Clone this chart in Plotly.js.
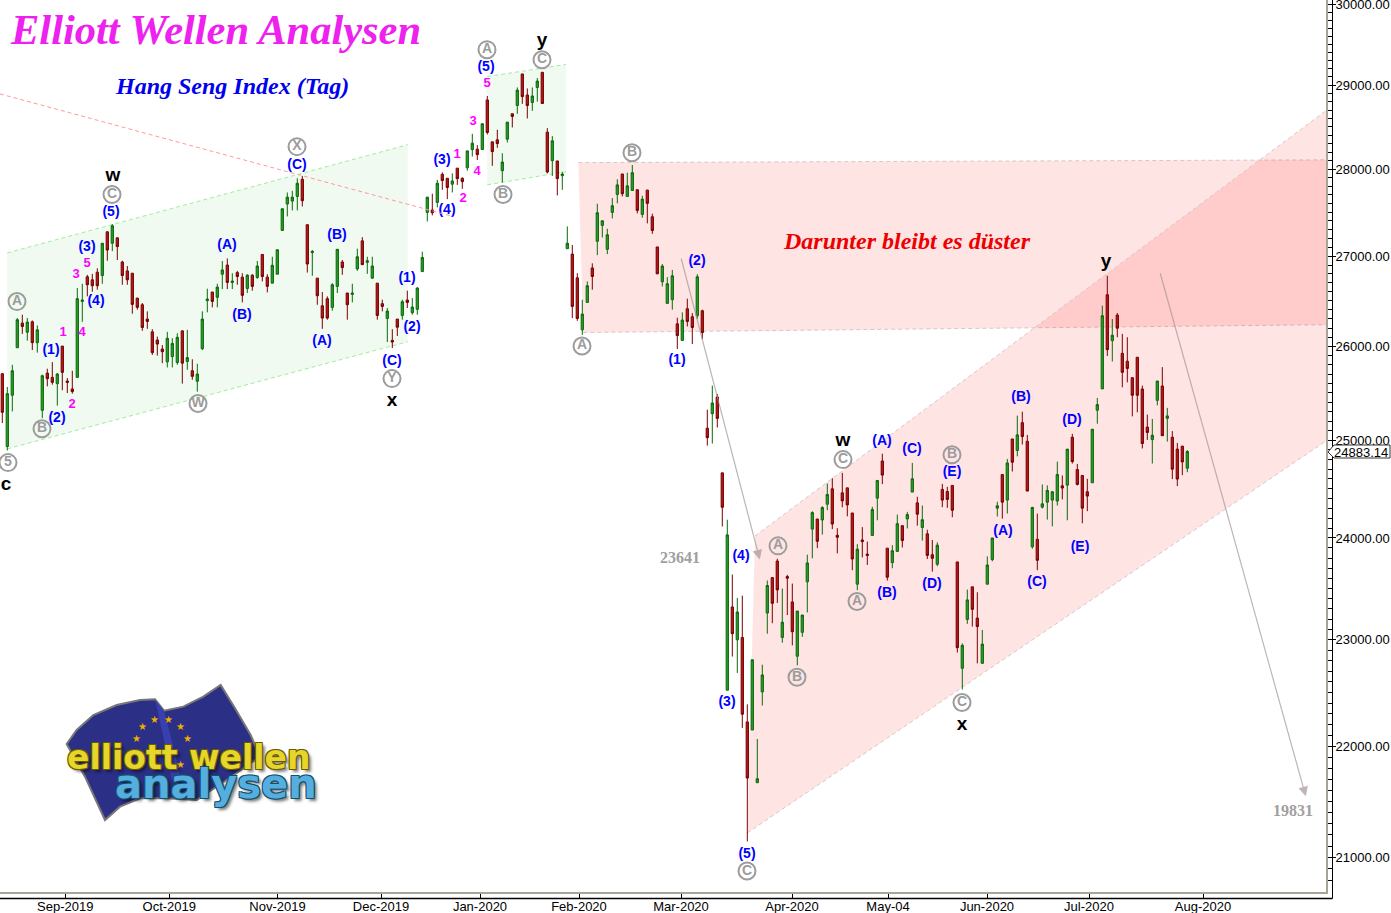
<!DOCTYPE html>
<html><head><meta charset="utf-8">
<script src="https://cdn.plot.ly/plotly-3.0.1.min.js"></script>
<style>html,body{margin:0;padding:0;background:#fff}#c{width:1391px;height:913px}</style></head>
<body><div id="c"></div>
<script>
const openVals=[25705,24935,25475,25986,26255,26155,26269,26041,25315,25712,
25666,25599,26004,25627,25542,25666,26494,26768,26734,26819,
26782,27276,27146,27207,26934,26834,26808,26531,26457,26299,
26159,26070,25972,25833,25890,25826,26170,25837,25737,25624,
25975,26502,26598,26539,26797,26900,26705,26815,26764,26638,
26786,26760,27019,26764,26697,26797,27291,27594,27628,27682,
27881,27357,27039,26753,26446,26524,26428,26661,26934,26587,
26572,26856,27173,26930,26753,26697,26469,26306,26066,26299,
26339,26509,26369,26406,26826,27498,27525,27613,27939,27893,
27824,28011,27893,28015,28230,28234,28230,28821,28321,28345,
27981,28353,28655,28754,29136,28881,28790,28972,29156,28436,
28099,28095,27923,27084,27023,26756,26181,26483,26867,27168,
27349,27077,27498,27705,27943,27682,27751,27759,27475,27755,
27448,27104,26712,26472,26513,26247,26066,26413,26325,26336,
26391,25127,25279,25457,24662,22521,23318,23000,23023,22224,
22149,21667,22505,23259,23606,23770,23023,23616,23367,22843,
23072,23564,24089,24191,24181,24341,24498,24027,24457,24508,
24252,23541,23980,23839,24025,24403,24785,23898,23754,23866,
24124,24192,24465,24355,24106,24042,23833,23738,24492,24471,
24533,23761,22728,23197,23515,23210,22775,23541,23784,24301,
24645,24383,25014,24894,25185,24990,23912,23987,24311,24362,
24383,24373,24529,24536,25032,24696,24635,24468,24560,25316,
25543,26568,26063,26343,25925,25840,25663,25883,25542,25138,
25007,25421,25574,25231,25032,24908,24939,24710];
const highVals=[25712,25563,25801,26310,26347,26310,26284,26229,25695,25759,
25830,25712,26004,25659,25737,26642,26690,26790,26801,26863,
27146,27280,27364,27211,26948,26889,26808,26531,26476,26384,
26188,26107,26015,26159,26089,26144,26170,26181,25861,25812,
26384,26635,26598,26690,26945,26974,26808,26834,26808,26797,
26797,26945,27023,26797,26993,27072,27540,27728,27747,27893,
27920,27357,27069,26753,26598,26550,26697,27077,26956,26587,
26690,27084,27215,26993,26993,26697,26513,26421,26188,26299,
26513,26613,26531,26653,27050,27674,27713,27874,27962,27893,
27950,28011,27904,28214,28416,28281,28536,28869,28321,28464,
28186,28555,28655,28972,29136,28960,28972,29086,29156,28484,
28389,28099,27969,27337,27126,26808,26513,26716,26919,27598,
27402,27311,27663,27881,27943,27958,28048,27766,27690,27759,
27483,27104,26911,26764,26845,26314,26373,26524,26365,26797,
26402,25322,25578,25489,24662,24184,23636,23406,23429,22388,
22809,22066,22762,23577,23606,23793,23498,23633,23547,23278,
23242,23833,24269,24191,24321,24552,24607,24099,24662,24508,
24252,23938,24109,23964,24315,24584,24860,23898,23928,24236,
24124,24263,24765,24417,24328,24083,23980,23957,24549,24519,
24533,23761,22966,23488,23515,23462,23095,23816,24000,24366,
24645,24806,25014,25259,25301,25056,24315,24246,24543,24533,
24475,24778,24635,24908,25067,24754,24635,24601,25116,25447,
26446,26779,26299,26365,26137,26100,25663,25883,25578,25270,
25224,25627,25776,25341,25096,24973,24942,24898];
const lowVals=[25180,24894,25304,25986,26137,26063,25961,25933,25233,25570,
25588,25365,25528,25499,25492,25666,26269,26550,26601,26624,
26690,26948,27057,26956,26679,26679,26358,26402,26170,26192,
25908,25901,25819,25773,25773,25801,25599,25748,25641,25514,
25961,26373,26428,26428,26631,26631,26631,26679,26483,26587,
26613,26745,26716,26594,26697,26797,27291,27452,27521,27521,
27567,26815,26779,26457,26192,26292,26391,26587,26790,26292,
26483,26834,26904,26801,26745,26292,26384,26048,25982,26114,
26292,26421,26347,26347,26826,27394,27464,27556,27759,27651,
27728,27816,27770,27981,28147,28107,28230,28408,28039,28250,
27843,28313,28492,28655,28774,28599,28690,28801,28778,27950,
27920,27694,27759,27084,26310,26280,26126,26483,26624,27011,
27211,27023,27429,27602,27682,27682,27751,27487,27437,27372,
27253,26801,26660,26472,26402,25972,26066,26218,26026,26303,
26081,24945,24966,25134,24116,22521,22840,22684,22169,21142,
22149,21667,22377,23059,23160,23357,22972,23239,22947,22756,
23029,23265,23797,23898,24034,24280,24089,23846,24310,24218,
23679,23482,23806,23731,24025,24178,24546,23577,23698,23866,
23905,24096,24465,24124,23974,23790,23665,23718,24311,24304,
24209,22878,22527,23154,23128,22775,22775,23541,23767,24216,
24195,24246,24676,24833,24956,24475,23892,23679,24298,24185,
24117,24328,24390,24178,24758,24533,24148,24270,24560,25174,
25543,25897,25837,26100,25560,25613,25251,25294,24915,25004,
24758,25368,25048,24986,24598,24526,24638,24669];
const closeVals=[25294,25492,25737,26292,26218,26266,26041,26181,25684,25652,
25613,25702,25720,25613,25514,26524,26509,26679,26668,26668,
27146,27069,27345,27108,26782,26734,26461,26428,26207,26273,
25933,26026,25943,26089,26033,26100,25819,25879,25677,25702,
26299,26520,26494,26653,26845,26705,26720,26771,26561,26786,
26661,26889,26771,26661,26897,27072,27540,27674,27674,27835,
27632,26911,27054,26557,26310,26310,26679,27077,26871,26457,
26587,26993,26904,26948,26889,26339,26439,26387,26048,26210,
26491,26483,26432,26642,26985,27674,27494,27835,27866,27786,
27862,27889,27854,28214,28305,28170,28536,28432,28206,28301,
28083,28555,28623,28940,28861,28754,28869,29049,28778,27966,
28333,27889,27943,27146,26439,26306,26354,26668,26771,27494,
27402,27242,27575,27816,27713,27805,27958,27521,27651,27602,
27291,26801,26889,26690,26779,26118,26288,26273,26207,26768,
26151,25027,25393,25230,24310,24031,23059,23269,22296,21709,
22809,21703,22665,23528,23354,23485,23170,23600,23078,23278,
23239,23751,24256,23967,24307,24440,24140,24007,24375,24334,
23790,23888,23964,23826,24287,24584,24639,23610,23872,24144,
23974,24236,24601,24240,24184,23826,23797,23928,24383,24390,
24280,22925,22947,23387,23295,23128,22959,23731,24000,24325,
24362,24765,24772,25057,25039,24475,24308,23777,24345,24482,
24468,24645,24506,24908,24778,24543,24301,24424,25116,25376,
26336,25965,26122,26199,25720,25762,25475,25475,24966,25082,
25053,25627,25048,25256,24700,24598,24775,24883.14];
const barIndex=openVals.map((_,i)=>i);

const xTickIdx=[12.6,33.4,55.04,75.74,95.54,115.34,135.74,157.94,177.14,196.94,217.34,240.14];
const xTickText=['Sep-2019','Oct-2019','Nov-2019','Dec-2019','Jan-2020','Feb-2020','Mar-2020','Apr-2020','May-04','Jun-2020','Jul-2020','Aug-2020'];
const yTickVals=[21000,22000,23000,24000,25000,26000,27000,28000,29000,30000];
const yTickText=yTickVals.map(v=>v.toFixed(2));
const yMinor=[];for(let v=20800;v<=30000;v+=100){if(v%1000)yMinor.push(v);}

const blueText=['(1)','(2)','(3)','(4)','(5)','(A)','(B)','(C)','(A)','(B)','(C)','(1)','(2)','(3)','(4)','(5)','(2)','(1)','(4)','(3)','(5)','(A)','(C)','(E)','(B)','(D)','(A)','(C)','(B)','(D)','(E)'];
const blueIdx=[9.74,10.94,16.94,18.74,21.74,44.94,47.94,58.94,63.94,66.94,77.94,80.94,81.94,87.94,88.94,96.74,138.94,134.94,147.74,144.94,148.94,175.94,181.94,189.94,176.94,185.94,200.14,206.94,203.74,213.94,215.54];
const bluePrice=[25957,25233,27100,26488,27502,27123,26333,28045,26056,27238,25840,26753,26210,28103,27525,29217,26941,25851,23819,22404,21028,24988,24906,24661,23454,23542,24068,23554,25446,25212,23907];
const pinkText=['1','2','3','4','5','1','2','3','4','5'];
const pinkIdx=[12.14,13.94,14.74,15.94,16.94,90.94,92.14,94.14,94.94,96.94];
const pinkPrice=[26144,25372,26786,26154,26919,28163,27652,28555,27972,29021];
const blackText=['c','w','x','y','w','x','y'];
const blackIdx=[0.74,22.14,77.94,107.94,168.14,191.94,220.74];
const blackPrice=[24538,27915,25414,29538,24988,22196,26930];
const ringText=['A','B','5','C','W','X','Y','A','C','B','A','B','A','B','C','A','C','B','C'];
const ringIdx=[2.94,7.94,1.14,21.94,39.14,58.94,77.94,96.94,107.94,100.14,115.94,125.94,155.14,158.94,148.94,170.94,168.14,189.94,191.94];
const ringPrice=[26492,25121,24768,27704,25387,28264,25653,29433,29310,27704,26005,28192,23921,22643,20882,23371,24799,24850,22406];
const targetText=['23641','19831'];
const targetIdx=[135.54,258.14];
const targetPrice=[23790,21405];

const greenA={i:[1,81.1,81.1,1],p:[27036,28287,26052,24911]};
const greenB={i:[97,112.74,112.74,97],p:[29104,29252,27970,27817]};
const redBand={i:[115.2,264.74,264.74,116.2],p:[28076,28108,26237,26152]};
const redChan={i:[150.54,264.74,264.74,149],p:[24020,28692,24993,21217]};
const trend={i:[-0.46,90.2],p:[28894,27450]};
const arrowA={i:[135.7,151.5],p:[26990,23784]};
const arrowB={i:[231.5,260.7],p:[26824,21544]};

const W=1326,H=892;
const px=x=>x/W, py=y=>1-y/H;
const poly=c=>'M'+c.i.map((v,k)=>v+' '+c.p[k]).join(' L')+' Z';
const fillShape=(c,col)=>({type:'path',xref:'x',yref:'y',path:poly(c),fillcolor:col,line:{width:0},layer:'below'});
const edge=(c,a,b,col)=>({type:'line',xref:'x',yref:'y',x0:c.i[a],y0:c.p[a],x1:c.i[b],y1:c.p[b],line:{color:col,width:1,dash:'4px,3px'},layer:'below'});
const G='rgba(0,170,0,0.06)',GL='#9cf09c',R='rgba(255,0,0,0.105)',RL='#d9c6c6';

const flagPts=[[80,222],[110,180],[160,135],[230,105],[300,90],[345,88],[372,122],[430,110],[490,80],[542,45],[585,115],[632,195],[660,260],[560,330],[470,390],[380,385],[300,385],[240,410],[195,450],[135,320]];
const flagPath='M'+flagPts.map(p=>px(40+p[0]/3)+' '+py(670+p[1]/3)).join(' L')+' Z';
const foldPts=[[345,88],[372,122],[400,230],[420,320],[395,330],[370,200]];
const foldPath='M'+foldPts.map(p=>px(40+p[0]/3)+' '+py(670+p[1]/3)).join(' L')+' Z';
const tagPts=[[1328,452],[1334,445],[1390,445],[1390,458],[1334,458]];
const tagPath='M'+tagPts.map(p=>px(p[0])+' '+py(p[1])).join(' L')+' Z';

const shapes=[
 fillShape(greenA,G),edge(greenA,0,1,GL),edge(greenA,3,2,GL),
 fillShape(greenB,G),edge(greenB,0,1,GL),edge(greenB,3,2,GL),
 fillShape(redBand,R),edge(redBand,0,1,RL),edge(redBand,3,2,RL),
 fillShape(redChan,R),edge(redChan,0,1,RL),edge(redChan,3,2,RL),
 {type:'line',xref:'x',yref:'y',x0:trend.i[0],y0:trend.p[0],x1:trend.i[1],y1:trend.p[1],line:{color:'#ff9a9a',width:1,dash:'4px,3px'},layer:'above'},
 {type:'path',xref:'paper',yref:'paper',path:flagPath,fillcolor:'#2b2f86',line:{color:'#777777',width:2},layer:'below'},
 {type:'path',xref:'paper',yref:'paper',path:foldPath,fillcolor:'#3a3fb0',line:{width:0},layer:'below'},
 {type:'line',xref:'paper',yref:'paper',x0:0,x1:px(1332.5),y0:py(898.5),y1:py(898.5),line:{color:'#000',width:1.5}},
 {type:'line',xref:'paper',yref:'paper',x0:px(1332.5),x1:px(1332.5),y0:py(0),y1:py(898.5),line:{color:'#000',width:1}},
 {type:'path',xref:'paper',yref:'paper',path:tagPath,fillcolor:'#fff',line:{color:'#333',width:1},layer:'above'}
];

const note=(t,x,y,f,extra)=>Object.assign({xref:'paper',yref:'paper',x:px(x),y:py(y),text:t,showarrow:false,xanchor:'center',yanchor:'middle',font:f},extra||{});
const serif='"Liberation Serif",serif',sans='"Liberation Sans",Arial,sans-serif';
const outline=c=>`-1px -1px 0 ${c},1px -1px 0 ${c},-1px 1px 0 ${c},1px 1px 0 ${c},3px 3px 3px rgba(0,0,0,.5)`;
const starX=[154,168,180,187,142,136,180],starY=[719,719,726,738,726,738,764];
const annotations=[
 note('Elliott Wellen Analysen',215,30,{family:serif,size:42.5,color:'#ee22ee',weight:700,style:'italic'}),
 note('Hang Seng Index (Tag)',232,86,{family:serif,size:24,color:'#0000ee',weight:700,style:'italic'}),
 note('Darunter bleibt es düster',907,241,{family:serif,size:24,color:'#ee0000',weight:700,style:'italic'}),
 ...starX.map((x,k)=>note('★',x,starY[k],{family:'"DejaVu Sans"',size:10,color:'#f0b000'})),
 note('elliott wellen',188,757,{family:'"DejaVu Sans"',size:33,color:'#e6d52a',weight:700,shadow:outline('#6a5a00')}),
 note('analysen',216,784,{family:'"DejaVu Sans"',size:40,color:'#55aede',weight:700,shadow:outline('#14506e')}),
 note('24883.14',1361,452,{family:sans,size:13,color:'#000'}),
 {xref:'x',yref:'y',axref:'x',ayref:'y',x:arrowA.i[1],y:Math.log10(arrowA.p[1]),ax:arrowA.i[0],ay:Math.log10(arrowA.p[0]),text:'',showarrow:true,arrowhead:2,arrowsize:1.6,arrowwidth:1.2,arrowcolor:'rgba(165,150,150,.7)'},
 {xref:'x',yref:'y',axref:'x',ayref:'y',x:arrowB.i[1],y:Math.log10(arrowB.p[1]),ax:arrowB.i[0],ay:Math.log10(arrowB.p[0]),text:'',showarrow:true,arrowhead:2,arrowsize:1.6,arrowwidth:1.2,arrowcolor:'rgba(165,150,150,.7)'}
];

const textTrace=(t,i,p,f)=>({type:'scatter',mode:'text',x:i,y:p,text:t,textposition:'middle center',textfont:f,hoverinfo:'skip',showlegend:false,cliponaxis:false});
const data=[
 {type:'candlestick',x:barIndex,open:openVals,high:highVals,low:lowVals,close:closeVals,whiskerwidth:0,showlegend:false,
  increasing:{line:{color:'#0b6b0b',width:1},fillcolor:'#2a9a2a'},
  decreasing:{line:{color:'#7a0000',width:1},fillcolor:'#b01818'}},
 {type:'scatter',mode:'markers+text',x:ringIdx,y:ringPrice,text:ringText,textposition:'middle center',
  textfont:{family:sans,size:14,color:'#9c9c9c',weight:700},
  marker:{symbol:'circle',size:17,color:'rgba(255,255,255,0)',line:{color:'#9c9c9c',width:2}},hoverinfo:'skip',showlegend:false,cliponaxis:false},
 textTrace(blueText,blueIdx,bluePrice,{family:sans,size:14,color:'#0000ff',weight:700}),
 textTrace(pinkText,pinkIdx,pinkPrice,{family:sans,size:13,color:'#ff00ff',weight:700}),
 textTrace(blackText,blackIdx,blackPrice,{family:sans,size:19,color:'#000',weight:700}),
 textTrace(targetText,targetIdx,targetPrice,{family:serif,size:16,color:'#a0a0a0',weight:700})
];
const layout={
 width:1391,height:913,margin:{l:0,r:65,t:0,b:21,pad:0},paper_bgcolor:'#fff',plot_bgcolor:'#fff',showlegend:false,dragmode:false,
 xaxis:{type:'linear',range:[-0.46,264.74],tickmode:'array',tickvals:xTickIdx,ticktext:xTickText,ticks:'outside',ticklen:5,tickcolor:'#000',ticklabeloverflow:'allow',ticklabelstandoff:-4,
  showgrid:false,zeroline:false,showline:true,linecolor:'#a8a498',linewidth:2,rangeslider:{visible:false},tickfont:{family:sans,size:13,color:'#000'},fixedrange:true},
 yaxis:{type:'log',side:'right',range:[4.31596,4.47785],tickmode:'array',tickvals:yTickVals,ticktext:yTickText,ticks:'outside',ticklen:8,tickcolor:'#000',ticklabeloverflow:'allow',ticklabelstandoff:-3,
  minor:{tickmode:'array',tickvals:yMinor,ticks:'outside',ticklen:5,tickcolor:'#000',showgrid:false},
  showgrid:false,zeroline:false,showline:true,linecolor:'#a8a498',linewidth:2,tickfont:{family:sans,size:13,color:'#000'},fixedrange:true},
 boxgap:0.35,shapes,annotations
};
Plotly.newPlot('c',data,layout,{displayModeBar:false,staticPlot:true});
</script></body></html>
